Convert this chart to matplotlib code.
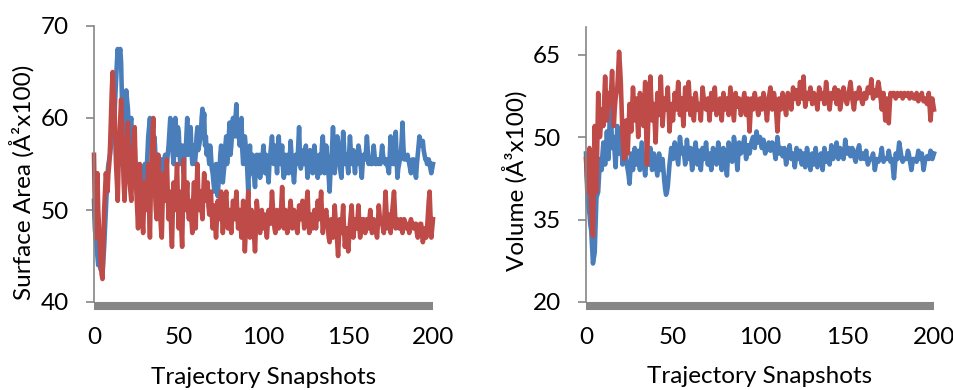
import numpy as np
import matplotlib
matplotlib.use("Agg")
import matplotlib.pyplot as plt

plt.rcParams['font.family'] = ['Lato', 'DejaVu Sans']

# values at whole snapshots 0..200
sa_blue = [
    51, 47, 45, 46, 43.5, 43, 46, 50, 54, 55.5,
    57, 58, 60, 64, 67.5, 67, 66, 60, 57, 63,
    61, 58, 60, 55, 57, 53, 54, 52, 53.5, 51.5,
    55, 54, 58, 60, 59.5, 56, 57, 53, 55, 52,
    55.5, 54, 56, 55, 57, 60, 58, 55, 60, 57,
    58.5, 55, 57, 54, 56, 60, 57, 59, 55, 57,
    56, 59, 57, 58, 61, 60.5, 58, 57, 55, 56,
    54, 52, 55, 51.5, 54, 57, 53, 55, 58, 56,
    59.5, 57, 60, 58, 61.5, 59, 57, 60, 55, 58,
    56, 52, 57, 55, 54, 52.5, 56, 55, 53.5, 55,
    57, 54, 55.5, 53, 56, 58, 55, 57, 54, 58,
    55, 57, 53.5, 56, 55, 54, 57.5, 55, 53, 56,
    55, 59, 54.5, 56, 55, 57, 53.5, 55, 56, 54,
    57, 55, 53.5, 56, 55, 58, 54, 57, 55, 52,
    55, 59, 54, 56, 57.5, 55, 53.5, 58.5, 55, 56,
    54, 58, 55, 56.5, 54, 55, 57, 55.5, 53.5, 56,
    55.5, 58, 55, 55.5, 55, 57, 55, 55.5, 55, 55,
    57, 55.5, 55, 55, 54, 58, 55.5, 55, 58.5, 53.5,
    55, 56, 59.5, 55.5, 55.5, 56, 55, 54, 55.5, 55,
    53.5, 56, 58, 57, 57.5, 56, 55.5, 55, 55, 54,
    55,
]
# values half-way between snapshots
sa_blue_mid = [
    48, 46, 44, 45, 44, 44.5, 48, 52, 55, 56,
    58, 59, 62, 66, 66, 67.5, 62, 58, 60, 62,
    59, 59.5, 57, 56, 54.5, 55, 52.5, 54, 52, 54,
    53, 56, 59, 58, 57, 58, 54, 56, 53, 54,
    53, 55.5, 54, 56, 58.5, 57, 56, 58, 56, 59,
    56, 56, 55, 57, 58, 56, 58, 56.5, 56, 55,
    58, 56.5, 57.5, 60, 59, 57, 56, 56, 57, 54.5,
    53, 54, 52.5, 53, 56, 55, 54, 57, 55, 58,
    56, 58.5, 59, 60, 58, 58, 59, 56.5, 57, 57,
    54, 55, 54, 56, 53.5, 55, 54, 56, 54.5, 56,
    55.5, 56, 54, 55, 57, 56.5, 56, 55.5, 56.5, 55.5,
    56, 54.5, 55, 54, 56, 55.5, 56, 54, 54.5, 55,
    57, 56, 55, 56.5, 56, 55, 54.5, 56.5, 55, 55.5,
    56, 54, 55, 54, 57, 56, 55.5, 56, 53.5, 54,
    57, 56.5, 55, 58, 56, 54, 56, 57, 55.5, 55,
    56, 56.5, 55.5, 55, 56, 56, 56.5, 54.5, 55, 55.5,
    56.5, 56.5, 55.5, 55, 56, 56, 55, 55.5, 55.5, 56,
    56, 55.5, 55.5, 54.5, 56, 56.5, 55, 57, 56, 54.5,
    55.5, 57.5, 57, 55.5, 55.5, 55.5, 54.5, 55, 55.5, 54,
    55, 57, 57.5, 57.5, 56.5, 55.5, 55, 55.5, 54.5, 54.5,
]

sa_red = [
    56, 47, 54, 48, 44, 42.5, 50, 54, 52, 55,
    60, 65, 62, 55, 51, 58, 62, 56, 51, 57,
    59.5, 53, 51, 56, 59, 52, 48, 55, 51, 47.5,
    53, 50, 55, 47, 56, 60, 52, 49, 56, 50,
    47, 54, 51, 55.5, 49, 52, 46, 53, 50, 55,
    48, 52, 46, 55.5, 50, 53, 49, 51, 47.5, 53,
    48, 55, 50, 52, 49, 54, 51, 53, 49.5, 52,
    48, 50.5, 47, 51, 49, 52, 47.5, 50, 52, 48,
    50, 47.5, 51, 49, 52, 48, 50, 47, 51, 45.5,
    49, 52, 47, 50, 48.5, 45.5, 51, 49, 47.5, 50,
    48, 49.5, 47, 50, 48.5, 52, 49, 47.5, 50, 48,
    49, 52.5, 48, 50, 47.5, 49, 51, 48, 50, 49,
    47.5, 50.5, 49, 51, 48, 50, 52, 47.5, 49.5, 48,
    50, 48, 51, 49, 52, 47.5, 49, 50, 48, 46.5,
    49, 47, 50.5, 48, 45, 49, 47.5, 50.5, 46, 48,
    45.5, 48.5, 50.5, 47, 49, 48, 50.5, 47, 48.5, 49,
    47.5, 49, 48, 50, 47.5, 49, 48.5, 47, 50.5, 48.5,
    49, 47.5, 52, 48, 49.5, 47.5, 50, 52, 48, 49,
    48, 49, 47.5, 49, 48.5, 48.5, 47.5, 49, 48.5, 48,
    48.5, 47, 48, 48.5, 46.5, 48, 47, 49.5, 52, 47,
    49,
]
sa_red_mid = [
    50, 51, 50, 46, 43, 46, 52, 53, 54, 57,
    63, 63, 58, 53, 55, 60, 59, 53, 54, 58,
    56, 52, 54, 57.5, 55, 50, 52, 53, 49, 51,
    51, 53, 50, 52, 58, 55, 50, 53, 52, 48,
    51, 52, 53, 52, 51, 48, 50, 51.5, 53, 51,
    50.5, 48, 51, 52, 51.5, 50, 50, 49, 51, 50,
    52, 52, 51, 50, 52, 52, 52, 50.5, 51, 49.5,
    49, 48.5, 49, 50, 50.5, 49.5, 49, 51, 50, 49,
    48.5, 49.5, 50, 50.5, 50, 49, 48.5, 49, 48, 47.5,
    50.5, 49.5, 48.5, 49, 47, 48, 50, 48, 49, 49,
    49, 48, 48.5, 49, 50, 50.5, 48, 49, 49, 48.5,
    50.5, 50, 49, 49, 48, 50, 49.5, 49, 49.5, 48,
    49, 50, 50, 49.5, 49, 51, 49.5, 48.5, 49, 49,
    49, 49.5, 50, 50.5, 49.5, 48.5, 49.5, 49, 47, 48,
    48, 48.5, 49, 46.5, 47, 48, 49, 48, 47, 46.5,
    47, 49.5, 48.5, 48, 48.5, 49, 48.5, 48, 49, 48,
    48, 48.5, 49, 48.5, 48, 48.5, 47.5, 48.5, 49.5, 48.5,
    48, 50, 50, 49, 48.5, 49, 51, 50, 48.5, 48.5,
    48.5, 48, 48.5, 48.5, 48, 48, 48.5, 48.5, 48, 48.5,
    47.5, 47.5, 48.5, 47.5, 47, 47.5, 48, 51, 49.5, 48,
]

vol_blue = [
    47, 38, 36, 33, 27, 29, 39, 40, 46, 44,
    49, 45, 51, 46, 58, 48, 50, 44.5, 52, 47,
    51, 45, 50, 46, 44, 41.5, 47, 44, 48, 45,
    47.5, 44, 49, 46, 43, 47, 45, 48, 44, 47,
    45, 43, 47, 44, 46, 42, 39.5, 41, 45, 48,
    46, 49, 47, 45, 50, 47, 48, 45, 49.5, 46,
    48, 44, 47, 49, 45, 47.5, 44, 48, 46, 49,
    45, 47, 44, 48, 46.5, 45, 49, 47, 44, 48,
    46, 43, 49, 47, 45.5, 50, 48, 44, 49, 47,
    48, 50, 46, 48.5, 47, 49, 50, 48, 51, 49,
    50, 48, 49.5, 47, 48, 49, 47.5, 49, 48, 46,
    50, 47, 48, 46.5, 48, 45, 47, 48.5, 46, 47,
    44.5, 48, 46, 47.5, 45, 47, 44.5, 48, 46, 44,
    47, 45, 48, 44.5, 46, 47, 44, 48, 45.5, 47,
    45, 48.5, 46, 47, 49, 46, 48, 47.5, 46, 49.5,
    47, 48, 46.5, 48, 47, 45.5, 47.5, 48.5, 46, 47,
    46, 47.5, 45, 46, 46, 47, 44, 46, 45.5, 46,
    48, 45.5, 46, 46, 47.5, 45.5, 46, 42.5, 47, 46,
    49, 47, 45.5, 46, 46, 47.5, 46, 44, 46, 46,
    45.5, 47.5, 46, 47, 44, 46, 46.5, 46, 47.5, 46,
    47,
]
vol_blue_mid = [
    42, 37, 34, 30, 28, 34, 39.5, 43, 45, 47,
    47, 48, 48.5, 52, 53, 49, 47, 48, 49.5, 49,
    48, 47.5, 48, 45, 43, 44, 45.5, 46, 46.5, 46,
    45.5, 46.5, 47.5, 44.5, 45, 46, 46.5, 46, 45.5, 46,
    44, 45, 45.5, 45, 44, 40.5, 40, 43, 46.5, 47,
    47.5, 48, 46, 47.5, 48.5, 47.5, 46.5, 47, 47.5, 47,
    46, 45.5, 48, 47, 46, 45.5, 46, 47, 47.5, 47,
    46, 45.5, 46, 47, 45.5, 47, 48, 45.5, 46, 47,
    44.5, 46, 48, 46, 47.5, 49, 46, 46.5, 48, 47.5,
    49, 48, 47, 47.5, 48, 49.5, 49, 49.5, 50, 49.5,
    49, 48.5, 48, 47.5, 48.5, 48, 48, 48.5, 47, 48,
    48.5, 47.5, 47, 47.5, 46.5, 46, 47.5, 47, 46.5, 46,
    46, 47, 46.5, 46, 46, 46, 46, 47, 45, 45.5,
    46, 46.5, 46, 45.5, 46.5, 45.5, 46, 46.5, 46, 46,
    46.5, 47, 46.5, 48, 47.5, 47, 47.5, 47, 47.5, 48,
    47.5, 47, 47, 47.5, 46, 46.5, 48, 47, 46.5, 46.5,
    46.5, 46, 45.5, 46, 46.5, 45.5, 45, 45.5, 46, 47,
    46.5, 46, 46, 46.5, 46.5, 46, 44, 44.5, 46.5, 47.5,
    48, 46, 46, 46, 46.5, 47, 45, 45, 46, 46,
    46.5, 47, 46.5, 45.5, 45, 46, 46.5, 46.5, 47, 46.5,
]

vol_red = [
    46, 40, 48, 37, 32, 52, 40, 58, 50, 55,
    52, 61, 53, 58, 56, 62, 52, 57, 59, 65.5,
    60, 50, 46, 53, 47, 56, 51, 59, 53, 57,
    50, 58, 54, 52, 60, 45, 55, 61, 53, 56,
    49, 58, 54, 61, 52, 57, 55, 59, 51, 56,
    53, 58, 55, 60, 54, 57, 52, 59, 55, 60,
    54, 57, 53, 58, 55, 56, 53, 59, 56, 55,
    57, 53, 58, 55, 59, 54, 56, 57, 53, 58,
    55, 57, 54, 59, 56, 53, 58, 55.5, 57, 54,
    56, 58, 54, 57, 51, 57, 55, 58, 56, 54,
    57, 55, 58, 56, 53, 57, 59, 55, 58, 56,
    51, 57, 55, 58, 56.5, 54, 58, 57, 55, 59,
    57, 58.5, 56, 60, 57, 61, 55.5, 58, 57, 59,
    56, 58, 57.5, 55, 59, 57, 58, 56, 60, 57.5,
    55, 58, 57, 59, 56, 58.5, 55, 57, 59, 57,
    56, 58, 60, 57, 55, 58, 57, 59, 57.5, 56,
    58, 57, 59, 58, 60.5, 57, 58.5, 57.5, 60, 58,
    55, 58, 53, 57, 52.5, 58, 57.5, 58, 57, 58,
    57.5, 58, 57, 58, 57.5, 58, 57, 58, 57.5, 57,
    58, 56.5, 57, 58, 56.5, 57, 56, 58, 53, 57,
    55,
]
vol_red_mid = [
    43, 44, 42, 34, 42, 46, 49, 54, 52, 53.5,
    57, 57, 55, 57, 59, 57, 55, 58, 62, 63,
    55, 48, 49.5, 50, 51.5, 53.5, 55, 56, 55, 53.5,
    54, 56, 53, 56, 52.5, 50, 58, 57, 54.5, 52.5,
    53.5, 56, 57.5, 56.5, 54.5, 56, 57, 55, 53.5, 54.5,
    55.5, 56.5, 57.5, 57, 55.5, 54.5, 55.5, 57, 57.5, 57,
    55.5, 55, 55.5, 56.5, 55.5, 54.5, 56, 57.5, 55.5, 56,
    55, 55.5, 56.5, 57, 56.5, 55, 56.5, 55, 55.5, 56.5,
    56, 55.5, 56.5, 57.5, 54.5, 55.5, 56.5, 56, 55.5, 55,
    57, 56, 55.5, 54, 54, 56, 56.5, 57, 55, 55.5,
    56, 56.5, 57, 54.5, 55, 58, 57, 56.5, 57, 53.5,
    54, 56, 56.5, 57, 55, 56, 57.5, 56, 57, 58,
    57.5, 57, 58, 58.5, 59, 58, 56.5, 57.5, 58, 57.5,
    57, 57.5, 56, 57, 58, 57.5, 57, 58, 58.5, 56,
    56.5, 57.5, 58, 57.5, 57, 57, 56, 58, 58, 56.5,
    57, 59, 58.5, 56, 56.5, 57.5, 58, 58, 56.5, 57,
    57.5, 58, 58.5, 59, 58.5, 57.5, 58, 59, 59, 56.5,
    56.5, 55.5, 55, 54.5, 55.5, 57.5, 58, 57.5, 57.5, 57.5,
    57.5, 57.5, 57.5, 57.5, 57.5, 57.5, 57.5, 57.5, 57, 57.5,
    57, 57, 57.5, 57, 57, 56.5, 57, 55.5, 55, 56,
]

x_ticks = [0, 50, 100, 150, 200]
sa_ticks = [40, 50, 60, 70]
vol_ticks = [20, 35, 50, 65]


def merge(whole, mid):
    out = []
    for a, b in zip(whole[:-1], mid):
        out += [a, b]
    out.append(whole[-1])
    return out


snapshots = [i / 2 for i in range(2 * len(sa_blue) - 1)]

BLUE = '#4A7EBB'
RED = '#BE4B48'
GRAY = '#868686'

W, H = 954, 390
fig = plt.figure(figsize=(W / 100, H / 100), dpi=100)


def px_axes(l, r, t, b):
    return fig.add_axes([l / W, 1 - b / H, (r - l) / W, (b - t) / H])


ax1 = px_axes(94, 433, 26, 302)
ax2 = px_axes(586, 934, 27, 302)

FS = 17.5


def style(ax, ylim, yticks, ylabel, lab_x, lab_y):
    ax.set_xlim(0, 200)
    ax.set_ylim(*ylim)
    ax.set_xticks(x_ticks)
    ax.set_yticks(yticks)
    for s in ['top', 'right']:
        ax.spines[s].set_visible(False)
    ax.spines['left'].set_color(GRAY)
    ax.spines['left'].set_linewidth(1.2)
    ax.spines['bottom'].set_color(GRAY)
    ax.spines['bottom'].set_linewidth(5.8)
    ax.spines['bottom'].set_position(('outward', 3))
    ax.spines['bottom'].set_capstyle('butt')
    ax.tick_params(axis='y', length=6, width=1.2, color=GRAY, pad=12,
                   labelsize=FS, labelcolor='black')
    ax.tick_params(axis='x', length=0, pad=15, labelsize=FS, labelcolor='black')
    ax.set_xlabel('Trajectory Snapshots', fontsize=FS)
    ax.xaxis.label.set_verticalalignment('center')
    ax.xaxis.set_label_coords(0.5, -0.272)
    ax.set_ylabel(ylabel, fontsize=FS)
    ax.yaxis.label.set_verticalalignment('center')
    ax.yaxis.set_label_coords(lab_x, lab_y)


LW = 3.3
ax1.plot(snapshots, merge(sa_blue, sa_blue_mid), color=BLUE, lw=LW,
         solid_joinstyle='round', clip_on=False)
ax1.plot(snapshots, merge(sa_red, sa_red_mid), color=RED, lw=LW,
         solid_joinstyle='round', clip_on=False)
style(ax1, (40, 70), sa_ticks, 'Surface Area (Å²x100)', -0.212, 0.433)

ax2.plot(snapshots, merge(vol_blue, vol_blue_mid), color=BLUE, lw=LW,
         solid_joinstyle='round', clip_on=False)
ax2.plot(snapshots, merge(vol_red, vol_red_mid), color=RED, lw=LW,
         solid_joinstyle='round', clip_on=False)
style(ax2, (20, 70), vol_ticks, 'Volume (Å³x100)', -0.204, 0.44)

fig.savefig('out.png', dpi=100)
